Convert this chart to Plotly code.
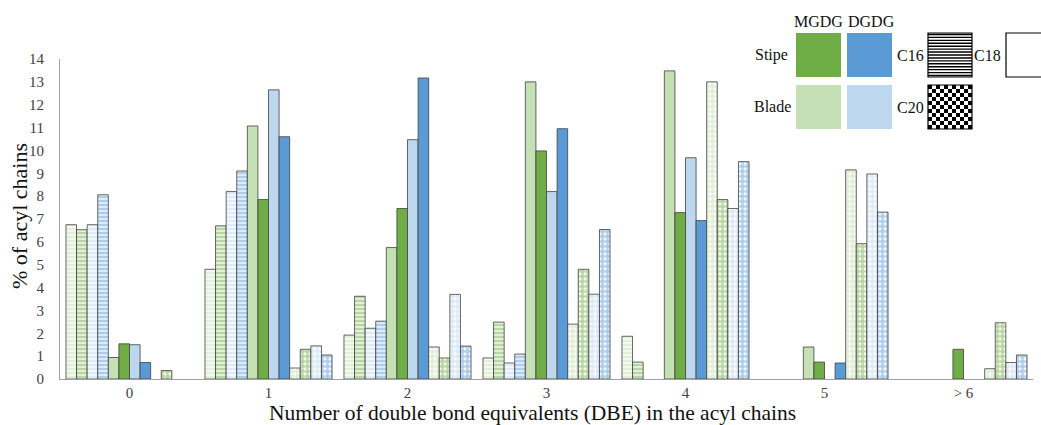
import plotly.graph_objects as go

categories = ["0", "1", "2", "3", "4", "5", "> 6"]

# C16 chains
c16_mgdg_blade = [6.75, 4.8, 1.92, 0.92, 1.87, None, None]
c16_mgdg_stipe = [6.53, 6.7, 3.62, 2.49, 0.74, None, None]
c16_dgdg_blade = [6.75, 8.2, 2.22, 0.7, None, None, None]
c16_dgdg_stipe = [8.06, 9.1, 2.53, 1.09, None, None, None]
# C18 chains
c18_mgdg_blade = [0.94, 11.07, 5.75, 13.0, 13.48, 1.4, None]
c18_mgdg_stipe = [1.54, 7.85, 7.46, 9.98, 7.28, 0.74, 1.3]
c18_dgdg_blade = [1.5, 12.65, 10.47, 8.2, 9.68, None, None]
c18_dgdg_stipe = [0.72, 10.6, 13.17, 10.95, 6.93, 0.7, None]
# C20 chains
c20_mgdg_blade = [None, 0.48, 1.4, 2.4, 13.0, 9.15, 0.45]
c20_mgdg_stipe = [0.37, 1.3, 0.92, 4.8, 7.85, 5.92, 2.46]
c20_dgdg_blade = [None, 1.45, 3.7, 3.71, 7.46, 8.97, 0.72]
c20_dgdg_stipe = [None, 1.05, 1.44, 6.54, 9.51, 7.3, 1.05]

y_ticks = list(range(0, 15))

GREEN = "#70AD47"
BLUE = "#5B9BD5"
LGREEN = "#C5E0B4"
LBLUE = "#BDD7EE"
EDGE = "#404040"
FONT = "Liberation Serif"

series = [
    ("C16 MGDG blade", c16_mgdg_blade, LGREEN, "-"),
    ("C16 MGDG stipe", c16_mgdg_stipe, GREEN, "-"),
    ("C16 DGDG blade", c16_dgdg_blade, LBLUE, "-"),
    ("C16 DGDG stipe", c16_dgdg_stipe, BLUE, "-"),
    ("C18 MGDG blade", c18_mgdg_blade, LGREEN, ""),
    ("C18 MGDG stipe", c18_mgdg_stipe, GREEN, ""),
    ("C18 DGDG blade", c18_dgdg_blade, LBLUE, ""),
    ("C18 DGDG stipe", c18_dgdg_stipe, BLUE, ""),
    ("C20 MGDG blade", c20_mgdg_blade, LGREEN, "."),
    ("C20 MGDG stipe", c20_mgdg_stipe, GREEN, "."),
    ("C20 DGDG blade", c20_dgdg_blade, LBLUE, "."),
    ("C20 DGDG stipe", c20_dgdg_stipe, BLUE, "."),
]

fig = go.Figure()
for name, vals, col, pat in series:
    if pat == "":
        marker = dict(color=col, line=dict(color=EDGE, width=0.8))
    elif pat == "-":
        marker = dict(color="white", line=dict(color=EDGE, width=0.8),
                      pattern=dict(shape="-", fgcolor=col, bgcolor="white",
                                   size=4, solidity=0.7))
    else:
        marker = dict(color="white", line=dict(color=EDGE, width=0.8),
                      pattern=dict(shape=".", fgcolor=col, bgcolor="white",
                                   size=5, solidity=0.75))
    fig.add_trace(go.Bar(name=name, x=categories, y=vals, marker=marker,
                         showlegend=False))

W, H = 1041, 425
L, R, T, B = 60, 8, 59, 46
PW, PH = W - L - R, H - T - B


def px(x):
    return (x - L) / PW


def py(y):
    return (H - B - y) / PH


shapes = []
annotations = []


def rect(x0, y0, x1, y1, fill, line_color=None, lw=0):
    shapes.append(dict(type="rect", xref="paper", yref="paper",
                       x0=px(x0), x1=px(x1), y0=py(y1), y1=py(y0),
                       fillcolor=fill,
                       line=dict(color=line_color or fill, width=lw),
                       layer="above"))


def text(x, y, s, size=16, angle=0, color="#111"):
    annotations.append(dict(xref="paper", yref="paper", x=px(x), y=py(y),
                            text=s, showarrow=False, xanchor="center",
                            yanchor="middle", textangle=angle,
                            font=dict(family=FONT, size=size, color=color)))


# axis titles
text(532, 413, "Number of double bond equivalents (DBE) in the acyl chains",
     size=21.5)
text(19, 216, "% of acyl chains", size=22, angle=-90)

# colour key
rect(796, 33, 841, 77, GREEN)
rect(847, 33, 892, 77, BLUE)
rect(796, 85, 841, 129, LGREEN)
rect(847, 85, 892, 129, LBLUE)
text(818, 21, "MGDG")
text(871, 21, "DGDG")
text(771, 55, "Stipe")
text(772, 106, "Blade")

# C16 striped key
rect(928, 33, 972, 77, "white", "black", 1.2)
n_lines = 15
for i in range(n_lines):
    yy = 33 + (i + 0.5) * 44 / n_lines
    shapes.append(dict(type="line", xref="paper", yref="paper",
                       x0=px(928), x1=px(972), y0=py(yy), y1=py(yy),
                       line=dict(color="black", width=1.4), layer="above"))
text(910, 55, "C16")

# C18 plain key
rect(1006, 33, 1050, 77, "white", "black", 1.2)
text(987, 55, "C18")

# C20 checker key
rect(928, 85, 972, 129, "white", "black", 1.2)
n = 11
s = 44 / n
for i in range(n):
    for j in range(n):
        if (i + j) % 2 == 0:
            rect(928 + i * s, 85 + j * s, 928 + (i + 1) * s, 85 + (j + 1) * s,
                 "black")
text(910, 108, "C20")

fig.update_layout(
    width=W, height=H,
    margin=dict(l=L, r=R, t=T, b=B),
    plot_bgcolor="white", paper_bgcolor="white",
    barmode="group", bargap=0.086, bargroupgap=0,
    font=dict(family=FONT, color="#404040"),
    shapes=shapes, annotations=annotations,
    xaxis=dict(showline=True, linecolor="#A0A0A0", linewidth=1.2,
               showgrid=False, ticks="", tickfont=dict(size=15, color="#404040"),
               automargin=False),
    yaxis=dict(range=[0, 14], tickvals=y_ticks, showline=True,
               linecolor="#A0A0A0", linewidth=1.2, showgrid=False, zeroline=False,
               ticks="", ticklabelstandoff=12, automargin=False,
               tickfont=dict(size=15, color="#404040")),
)

fig.write_html("out.html", config={"displayModeBar": False})
with open("out.html", encoding="utf-8") as f:
    html = f.read()
html = html.replace("<head>", "<head><style>html,body{margin:0;padding:0;overflow:hidden;}</style>", 1)
with open("out.html", "w", encoding="utf-8") as f:
    f.write(html)
